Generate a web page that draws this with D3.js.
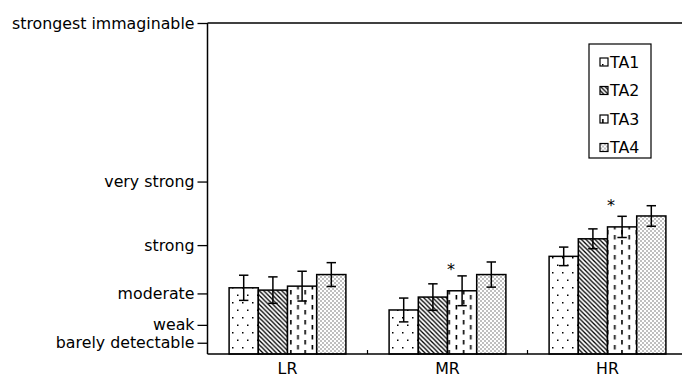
<!DOCTYPE html>
<html>
<head>
<meta charset="utf-8">
<script src="https://cdn.jsdelivr.net/npm/d3@7"></script>
<style>
  body { margin: 0; background: #fff; }
  text { font-family: "DejaVu Sans", Verdana, sans-serif; fill: #000; }
</style>
</head>
<body>
<div id="chart"></div>
<script>
// groups on the x axis and the four conditions
const groups = ["LR", "MR", "HR"]
const series = ["TA1", "TA2", "TA3", "TA4"]

// mean ratings (gLMS units)
const ta1 = [20.0, 13.3, 29.5]
const ta2 = [19.3, 17.2, 34.8]
const ta3 = [20.5, 19.1, 38.4]
const ta4 = [24.0, 24.0, 41.7]

// error bars (+/-)
const ta1Err = [3.8, 3.6, 2.8]
const ta2Err = [4.0, 4.0, 3.0]
const ta3Err = [4.5, 4.5, 3.2]
const ta4Err = [3.6, 3.8, 3.1]

// y ticks of the labeled magnitude scale
const tickValues = [3.4, 8.8, 18.3, 32.9, 52.1, 100]
const tickLabels = ["barely detectable", "weak", "moderate", "strong", "very strong", "strongest immaginable"]

// asterisks: [group index, series index]
const starred = [[1, 2], [2, 2]]

const width = 682
const height = 379
const margin = { top: 23, left: 207.5, bottom: 25 }
const fontSize = "15.8px"

const svg = d3.select("#chart")
  .append("svg")
    .attr("width", width)
    .attr("height", height)

// fill patterns
const defs = svg.append("defs")

const p1 = defs.append("pattern").attr("id", "pTA1")
  .attr("patternUnits", "userSpaceOnUse").attr("width", 10).attr("height", 15)
p1.append("rect").attr("width", 10).attr("height", 15).attr("fill", "#fff")
p1.append("rect").attr("x", 2).attr("y", 2).attr("width", 1.5).attr("height", 1.5).attr("fill", "#000")
p1.append("rect").attr("x", 7).attr("y", 9.5).attr("width", 1.5).attr("height", 1.5).attr("fill", "#000")

const p2 = defs.append("pattern").attr("id", "pTA2")
  .attr("patternUnits", "userSpaceOnUse").attr("width", 4.5).attr("height", 4.5)
p2.append("rect").attr("width", 4.5).attr("height", 4.5).attr("fill", "#fff")
p2.append("path").attr("d", "M-1,-1L5.5,5.5M3.5,-1L5.5,1M-1,3.5L1,5.5")
  .attr("stroke", "#000").attr("stroke-width", 1.3)

const p3 = defs.append("pattern").attr("id", "pTA3")
  .attr("patternUnits", "userSpaceOnUse").attr("width", 14.4).attr("height", 10)
p3.append("rect").attr("width", 14.4).attr("height", 10).attr("fill", "#fff")
p3.append("rect").attr("x", 2).attr("y", 0).attr("width", 1.6).attr("height", 4.5).attr("fill", "#000")
p3.append("rect").attr("x", 9.2).attr("y", 5).attr("width", 1.6).attr("height", 4.5).attr("fill", "#000")

const p4 = defs.append("pattern").attr("id", "pTA4")
  .attr("patternUnits", "userSpaceOnUse").attr("width", 4).attr("height", 4)
p4.append("rect").attr("width", 4).attr("height", 4).attr("fill", "#fff")
p4.append("rect").attr("x", 0.5).attr("y", 0.5).attr("width", 1).attr("height", 1).attr("fill", "#000")
p4.append("rect").attr("x", 2.5).attr("y", 2.5).attr("width", 1).attr("height", 1).attr("fill", "#000")

// scales
const y = d3.scaleLinear()
  .domain([0, 100])
  .range([height - margin.bottom, margin.top])

const x0 = d3.scaleBand()
  .domain(groups)
  .range([margin.left, margin.left + 480])
  .paddingInner(0.27)
  .paddingOuter(0.135)

const x1 = d3.scaleBand()
  .domain(series)
  .range([0, x0.bandwidth()])

const values = [ta1, ta2, ta3, ta4]
const errors = [ta1Err, ta2Err, ta3Err, ta4Err]

// flatten to one row per bar
const bars = []
groups.forEach((g, gi) => {
  series.forEach((s, si) => {
    bars.push({ group: g, gi: gi, name: s, si: si, value: values[si][gi], err: errors[si][gi] })
  })
})

// bars
svg.append("g")
  .selectAll("rect")
  .data(bars)
  .join("rect")
    .attr("x", d => x0(d.group) + x1(d.name))
    .attr("y", d => y(d.value))
    .attr("width", x1.bandwidth())
    .attr("height", d => y(0) - y(d.value))
    .attr("fill", d => `url(#p${d.name})`)
    .attr("stroke", "#000")
    .attr("stroke-width", 1.5)

// error bars
const cap = 4.7
const eb = svg.append("g")
  .attr("stroke", "#000")
  .attr("stroke-width", 1.5)
  .selectAll("g")
  .data(bars)
  .join("g")
    .attr("transform", d => `translate(${x0(d.group) + x1(d.name) + x1.bandwidth() / 2},0)`)
eb.append("line")
  .attr("y1", d => y(d.value + d.err))
  .attr("y2", d => y(d.value - d.err))
eb.append("line")
  .attr("x1", -cap).attr("x2", cap)
  .attr("y1", d => y(d.value + d.err)).attr("y2", d => y(d.value + d.err))
eb.append("line")
  .attr("x1", -cap).attr("x2", cap)
  .attr("y1", d => y(d.value - d.err)).attr("y2", d => y(d.value - d.err))

// asterisks
svg.append("g")
  .selectAll("text")
  .data(starred)
  .join("text")
    .attr("x", d => x0(groups[d[0]]) + x1(series[d[1]]) + 3.5)
    .attr("y", d => y(values[d[1]][d[0]]) - 16)
    .attr("text-anchor", "middle")
    .style("font-size", "16px")
    .text("*")

// y axis
const yAxis = svg.append("g")
  .attr("transform", `translate(${margin.left},0)`)
  .call(d3.axisLeft(y)
    .tickValues(tickValues)
    .tickFormat((d, i) => tickLabels[i])
    .tickSize(10)
    .tickPadding(3))
yAxis.select(".domain").remove()
yAxis.selectAll(".tick line").attr("stroke-width", 1.3)
yAxis.selectAll("text").style("font-size", fontSize).style("font-family", "DejaVu Sans, Verdana, sans-serif")

svg.append("line")
  .attr("x1", margin.left).attr("x2", margin.left)
  .attr("y1", y(100)).attr("y2", y(0))
  .attr("stroke", "#000").attr("stroke-width", 1.5)

// top line
svg.append("line")
  .attr("x1", margin.left).attr("x2", width)
  .attr("y1", y(100)).attr("y2", y(100))
  .attr("stroke", "#000").attr("stroke-width", 1.3)

// x axis
const xAxis = svg.append("g")
  .attr("transform", `translate(0,${y(0)})`)
  .call(d3.axisBottom(x0).tickSize(0).tickPadding(9))
xAxis.select(".domain").remove()
xAxis.selectAll("text").style("font-size", fontSize).style("font-family", "DejaVu Sans, Verdana, sans-serif")

svg.append("line")
  .attr("x1", margin.left).attr("x2", width)
  .attr("y1", y(0)).attr("y2", y(0))
  .attr("stroke", "#000").attr("stroke-width", 1.5)

// little ticks between the groups
svg.append("g")
  .selectAll("line")
  .data(groups.slice(1))
  .join("line")
    .attr("x1", d => x0(d) - x0.step() * x0.paddingInner() / 2)
    .attr("x2", d => x0(d) - x0.step() * x0.paddingInner() / 2)
    .attr("y1", y(0))
    .attr("y2", y(0) - 4)
    .attr("stroke", "#000")
    .attr("stroke-width", 1.2)

// legend
const legend = svg.append("g")
  .attr("transform", "translate(589,44)")
legend.append("rect")
  .attr("width", 62).attr("height", 114)
  .attr("fill", "#fff").attr("stroke", "#000").attr("stroke-width", 1.2)
const item = legend.selectAll(".item")
  .data(series)
  .join("g")
    .attr("transform", (d, i) => `translate(11,${18 + i * 28.5})`)
item.append("rect")
  .attr("x", 0).attr("y", -4)
  .attr("width", 8).attr("height", 8)
  .attr("fill", d => `url(#p${d})`)
  .attr("stroke", "#000").attr("stroke-width", 1.2)
item.append("text")
  .attr("x", 10)
  .attr("dy", "0.36em")
  .style("font-size", fontSize)
  .text(d => d)
</script>
</body>
</html>
